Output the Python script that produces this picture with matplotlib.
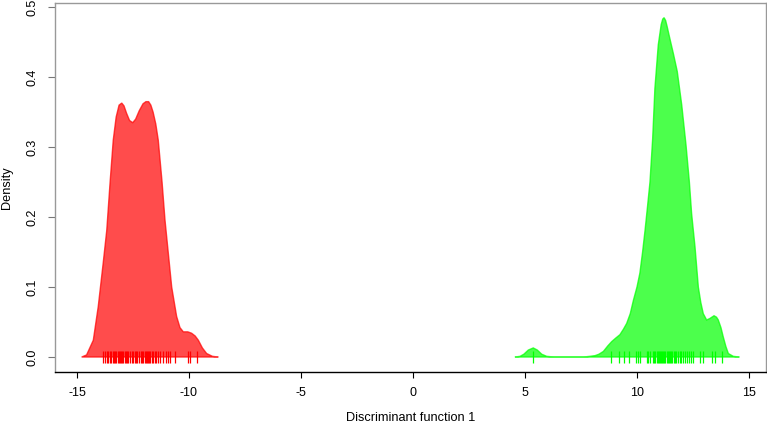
import matplotlib
matplotlib.use("Agg")
import matplotlib.pyplot as plt

plt.rcParams['font.family'] = ['Liberation Sans', 'DejaVu Sans']

# density curve of group 1
red_x = [-14.79, -14.57, -14.27, -14.05, -13.83, -13.67, -13.52, -13.38, -13.25, -13.12,
         -13.0, -12.9, -12.78, -12.65, -12.51, -12.38, -12.22, -12.05, -11.92, -11.8,
         -11.7, -11.6, -11.48, -11.37, -11.2, -11.07, -10.92, -10.77, -10.55, -10.4,
         -10.25, -10.05, -9.88, -9.72, -9.58, -9.4, -9.21, -8.95, -8.69]
red_y = [0.0, 0.003, 0.024, 0.072, 0.134, 0.181, 0.25, 0.31, 0.343, 0.36,
         0.363, 0.359, 0.348, 0.338, 0.335, 0.34, 0.352, 0.362, 0.365, 0.365,
         0.36, 0.35, 0.333, 0.31, 0.25, 0.196, 0.148, 0.1, 0.058, 0.042,
         0.036, 0.036, 0.034, 0.03, 0.024, 0.013, 0.005, 0.001, 0.0]

# density curve of group 2
green_x = [4.55, 4.78, 4.95, 5.15, 5.37, 5.55, 5.75, 5.97, 6.3, 7.6,
           7.9, 8.13, 8.3, 8.5, 8.7, 8.87, 9.05, 9.24, 9.4, 9.54,
           9.7, 9.84, 10.0, 10.13, 10.25, 10.36, 10.47, 10.58, 10.7, 10.8,
           10.95, 11.08, 11.15, 11.21, 11.28, 11.35, 11.47, 11.63, 11.8, 12.0,
           12.19, 12.34, 12.44, 12.59, 12.74, 12.85, 12.96, 13.11, 13.25, 13.44,
           13.55, 13.63, 13.75, 13.85, 13.97, 14.08, 14.3, 14.57]
green_y = [0.0, 0.001, 0.004, 0.01, 0.013, 0.01, 0.004, 0.001, 0.0, 0.0,
           0.001, 0.002, 0.004, 0.008, 0.016, 0.022, 0.027, 0.032, 0.04, 0.048,
           0.062, 0.081, 0.1, 0.12, 0.15, 0.181, 0.215, 0.25, 0.312, 0.384,
           0.446, 0.475, 0.483, 0.485, 0.481, 0.472, 0.455, 0.433, 0.408, 0.36,
           0.303, 0.25, 0.205, 0.158, 0.1, 0.078, 0.062, 0.053, 0.055, 0.059,
           0.057, 0.053, 0.042, 0.029, 0.015, 0.005, 0.001, 0.0]

# individual scores (rug)
red_rug = [-13.83, -13.76, -13.65, -13.6, -13.52, -13.46, -13.41, -13.35, -13.3, -13.24,
           -13.18, -13.12, -13.07, -13.02, -12.98, -12.93, -12.87, -12.82, -12.76, -12.7,
           -12.63, -12.56, -12.49, -12.42, -12.36, -12.3, -12.22, -12.15, -12.09, -12.03,
           -11.97, -11.92, -11.87, -11.82, -11.77, -11.72, -11.66, -11.6, -11.53, -11.45,
           -11.37, -11.29, -11.15, -11.04, -10.95, -10.85, -10.63, -10.06, -9.96, -9.66]
green_rug = [5.37, 8.84, 9.21, 9.43, 9.66, 9.96, 10.06, 10.13, 10.43, 10.51,
             10.58, 10.7, 10.76, 10.82, 10.88, 10.93, 10.98, 11.03, 11.08, 11.13,
             11.18, 11.22, 11.27, 11.32, 11.37, 11.42, 11.47, 11.53, 11.58, 11.64,
             11.7, 11.76, 11.83, 11.9, 11.97, 12.05, 12.13, 12.22, 12.32, 12.42,
             12.51, 12.81, 12.96, 13.33, 13.48, 13.78]

x_ticks = [-15, -10, -5, 0, 5, 10, 15]
y_ticks = [0.0, 0.1, 0.2, 0.3, 0.4, 0.5]

W, H = 767, 426
fig = plt.figure(figsize=(W / 100, H / 100), dpi=100)
ax = fig.add_axes([55 / W, (H - 372) / H, (766 - 55) / W, (372 - 3) / H])

for xs, ys, rug, col in [(red_x, red_y, red_rug, (1, 0, 0)),
                         (green_x, green_y, green_rug, (0, 1, 0))]:
    ax.fill(xs, ys, facecolor=col + (0.7,), edgecolor=col + (0.7,), linewidth=1.0)
    ax.plot(rug, [0] * len(rug), linestyle='none', marker='|', markersize=8.5,
            markeredgewidth=0.9, color=col)

ax.set_xlim(-15.98, 15.76)
ax.set_ylim(-0.0214, 0.506)
ax.set_xticks(x_ticks)
ax.set_xticklabels([str(t) for t in x_ticks])
ax.set_yticks(y_ticks)
ax.set_yticklabels(['%.1f' % t for t in y_ticks], rotation=90, va='center')

for side in ['top', 'right', 'left']:
    ax.spines[side].set_color('#999999')
ax.spines['bottom'].set_color('black')
for s in ax.spines.values():
    s.set_linewidth(1.0)

ax.tick_params(axis='x', length=4, width=0.8, pad=7, labelsize=9, colors='black')
ax.tick_params(axis='y', length=5, width=0.8, pad=7, labelsize=9, color='#777777')

ax.set_xlabel('Discriminant function 1', fontsize=9.2)
ax.xaxis.set_label_coords(0.5, -40 / 369, transform=ax.transAxes)
ax.set_ylabel('Density', fontsize=9.2)
ax.yaxis.set_label_coords(-42 / 711, 0.5, transform=ax.transAxes)

fig.savefig('out.png', dpi=100)
